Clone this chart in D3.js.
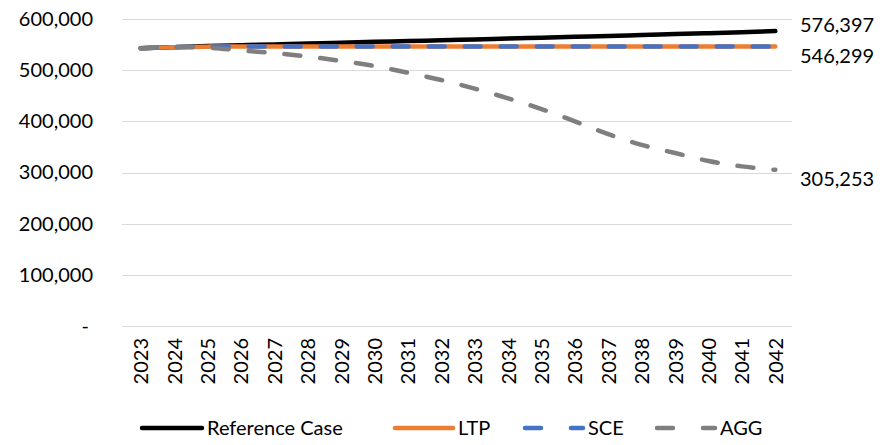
<!DOCTYPE html>
<html>
<head>
<meta charset="utf-8">
<script src="https://cdn.jsdelivr.net/npm/d3@7"></script>
<style>
  html, body { margin: 0; padding: 0; background: #fff; }
  svg { display: block; }
  text { font-family: Lato, "Open Sans", sans-serif; fill: #000; }
</style>
</head>
<body>
<svg id="chart" width="884" height="445"></svg>
<script>
// Projected values by year, four scenarios
const years = [2023, 2024, 2025, 2026, 2027, 2028, 2029, 2030, 2031, 2032,
               2033, 2034, 2035, 2036, 2037, 2038, 2039, 2040, 2041, 2042];
const referenceCase = [543000, 545000, 547000, 548700, 550400, 552100, 553700, 555300, 556900, 558500,
                       560100, 561800, 563500, 565300, 567000, 568700, 570500, 572300, 574300, 576397];
const ltp = [543000, 545000, 546000, 546200, 546299, 546299, 546299, 546299, 546299, 546299,
             546299, 546299, 546299, 546299, 546299, 546299, 546299, 546299, 546299, 546299];
const sce = [543000, 545000, 546000, 546200, 546299, 546299, 546299, 546299, 546299, 546299,
             546299, 546299, 546299, 546299, 546299, 546299, 546299, 546299, 546299, 546299];
const agg = [543000, 545000, 544000, 538500, 533400, 526600, 518000, 508000, 495000, 480700,
             464000, 445000, 424000, 400000, 375000, 354000, 338000, 322500, 312000, 305253];
const yTicks = [0, 100000, 200000, 300000, 400000, 500000, 600000];
const seriesNames = ["Reference Case", "LTP", "SCE", "AGG"];

const series = [
  { name: seriesNames[0], values: referenceCase, color: "#000000", dash: null },
  { name: seriesNames[1], values: ltp, color: "#ED7D31", dash: null },
  { name: seriesNames[2], values: sce, color: "#4472C4", dash: "16,20" },
  { name: seriesNames[3], values: agg, color: "#7F7F7F", dash: "16,20" }
];

const svg = d3.select("#chart");
const fontSize = 20;

const x = d3.scalePoint().domain(years).range([124, 792]).padding(0.5);
const y = d3.scaleLinear().domain([0, 600000]).range([326, 19]);
const fmt = d3.format(",");

// horizontal gridlines
svg.append("g")
  .selectAll("line")
  .data(yTicks)
  .join("line")
  .attr("x1", 122).attr("x2", 792)
  .attr("y1", d => Math.round(y(d)) + 0.5)
  .attr("y2", d => Math.round(y(d)) + 0.5)
  .attr("stroke", "#d9d9d9")
  .attr("stroke-width", 1);

// y axis labels
const yAxis = d3.axisLeft(y)
  .tickValues(yTicks)
  .tickSize(0)
  .tickPadding(0)
  .tickFormat(d => d === 0 ? "-" : fmt(d));
const yg = svg.append("g").attr("transform", "translate(93,0)").call(yAxis);
yg.select(".domain").remove();
yg.selectAll("text")
  .attr("font-size", fontSize)
  .attr("font-family", "Lato, sans-serif")
  .attr("fill", "#000")
  .attr("x", d => d === 0 ? -4 : 0);

// x axis labels, rotated
const xAxis = d3.axisBottom(x).tickSize(0).tickPadding(0);
const xg = svg.append("g").attr("transform", "translate(0,338)").call(xAxis);
xg.select(".domain").remove();
xg.selectAll("text")
  .attr("font-size", fontSize)
  .attr("font-family", "Lato, sans-serif")
  .attr("fill", "#000")
  .attr("transform", "rotate(-90)")
  .attr("text-anchor", "end")
  .attr("x", 0)
  .attr("y", 0)
  .attr("dy", "0.35em");

// series lines
const line = d3.line()
  .x((d, i) => x(years[i]))
  .y(d => y(d))
  .curve(d3.curveCatmullRom.alpha(0.5));

svg.append("g")
  .selectAll("path")
  .data(series)
  .join("path")
  .attr("d", d => line(d.values))
  .attr("fill", "none")
  .attr("stroke", d => d.color)
  .attr("stroke-width", 4.5)
  .attr("stroke-linecap", "round")
  .attr("stroke-linejoin", "round")
  .attr("stroke-dasharray", d => d.dash);

// end-of-line value labels
const endLabels = [
  { values: referenceCase, dy: -6 },
  { values: ltp, dy: 10 },
  { values: agg, dy: 9 }
];
svg.append("g")
  .selectAll("text")
  .data(endLabels)
  .join("text")
  .attr("x", 800)
  .attr("y", d => y(d.values[d.values.length - 1]) + d.dy)
  .attr("dy", "0.35em")
  .attr("font-size", fontSize)
  .text(d => fmt(d.values[d.values.length - 1]));

// legend
const legendItems = [
  { s: series[0], x: 140, w: 64 },
  { s: series[1], x: 393, w: 62 },
  { s: series[2], x: 523, w: 62 },
  { s: series[3], x: 655, w: 62 }
];
const lg = svg.append("g").attr("transform", "translate(0,428)");
const li = lg.selectAll("g").data(legendItems).join("g")
  .attr("transform", d => `translate(${d.x},0)`);
li.append("line")
  .attr("x1", 2).attr("x2", d => d.w - 2)
  .attr("y1", 0).attr("y2", 0)
  .attr("stroke", d => d.s.color)
  .attr("stroke-width", 4.5)
  .attr("stroke-linecap", "round")
  .attr("stroke-dasharray", d => d.s.dash ? "16,30" : null);
li.append("text")
  .attr("x", d => d.w + 3)
  .attr("y", 0)
  .attr("dy", "0.35em")
  .attr("font-size", fontSize)
  .text(d => d.s.name);
</script>
</body>
</html>
